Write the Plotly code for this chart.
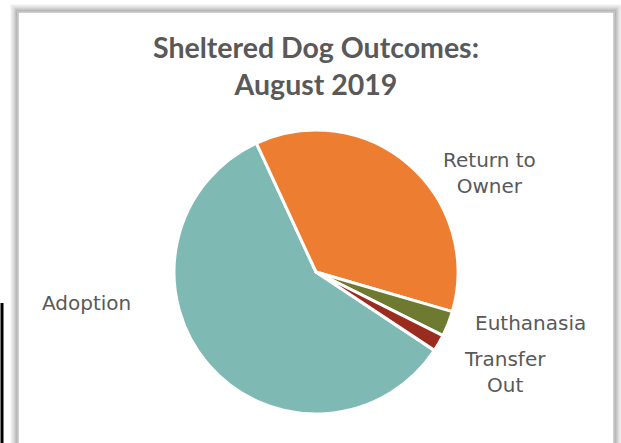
import plotly.graph_objects as go

labels = ["Adoption", "Return to Owner", "Euthanasia", "Transfer Out"]
label_text = ["Adoption", "Return to<br>Owner", "Euthanasia", "Transfer<br>Out"]
values = [58.8, 36.4, 2.9, 1.9]
colors = ["#7FB9B3", "#ED7D31", "#6E7A30", "#9B2B1F"]

W, H = 621, 443
LABEL_FONT = "DejaVu Sans, Open Sans, sans-serif"
TITLE_FONT = "Lato, Open Sans, sans-serif"

def px(x):
    return x / W

def py(y):
    return 1 - y / H

fig = go.Figure(go.Pie(
    labels=labels,
    values=values,
    sort=False,
    direction="clockwise",
    rotation=123.5,
    marker=dict(colors=colors, line=dict(color="white", width=3)),
    textinfo="none",
    hoverinfo="label+percent",
    showlegend=False,
    domain=dict(x=[px(174), px(458)], y=[py(414), py(130)]),
))

shapes = []
# soft shadow around chart area
for i, op in enumerate([0.04, 0.06, 0.08, 0.11, 0.14, 0.18, 0.23]):
    d = 7 - i
    shapes.append(dict(type="rect", xref="paper", yref="paper",
                       x0=px(18 - d), x1=px(614 + d), y0=py(460), y1=py(12 - d),
                       line=dict(color=f"rgba(0,0,0,{op})", width=1.5),
                       fillcolor="rgba(0,0,0,0)", layer="below"))
shapes.append(dict(type="rect", xref="paper", yref="paper",
                   x0=px(18), x1=px(614), y0=py(460), y1=py(12),
                   line=dict(color="#BFBFBF", width=1.5),
                   fillcolor="white", layer="below"))
# black vertical line at left edge
shapes.append(dict(type="line", xref="paper", yref="paper",
                   x0=px(2), x1=px(2), y0=py(303), y1=py(443),
                   line=dict(color="black", width=3)))

label_pos = [(86, 303), (490, 173), (530, 323), (505, 372)]
annotations = []
for t, (x, y) in zip(label_text, label_pos):
    annotations.append(dict(text=t, x=px(x), y=py(y), xref="paper", yref="paper",
                            showarrow=False, xanchor="center", yanchor="middle",
                            font=dict(family=LABEL_FONT, size=20, color="#595959")))
annotations.append(dict(text="<b>Sheltered Dog Outcomes:<br>August 2019</b>",
                        x=px(316), y=py(65), xref="paper", yref="paper",
                        showarrow=False, xanchor="center", yanchor="middle",
                        font=dict(family=TITLE_FONT, size=28.5, color="#595959")))

fig.update_layout(
    width=W, height=H,
    margin=dict(l=0, r=0, t=0, b=0),
    paper_bgcolor="white",
    plot_bgcolor="white",
    shapes=shapes,
    annotations=annotations,
)

fig.write_html("out.html",
               config={"displayModeBar": False},
               post_script="document.body.style.margin='0';document.body.style.overflow='hidden';")
